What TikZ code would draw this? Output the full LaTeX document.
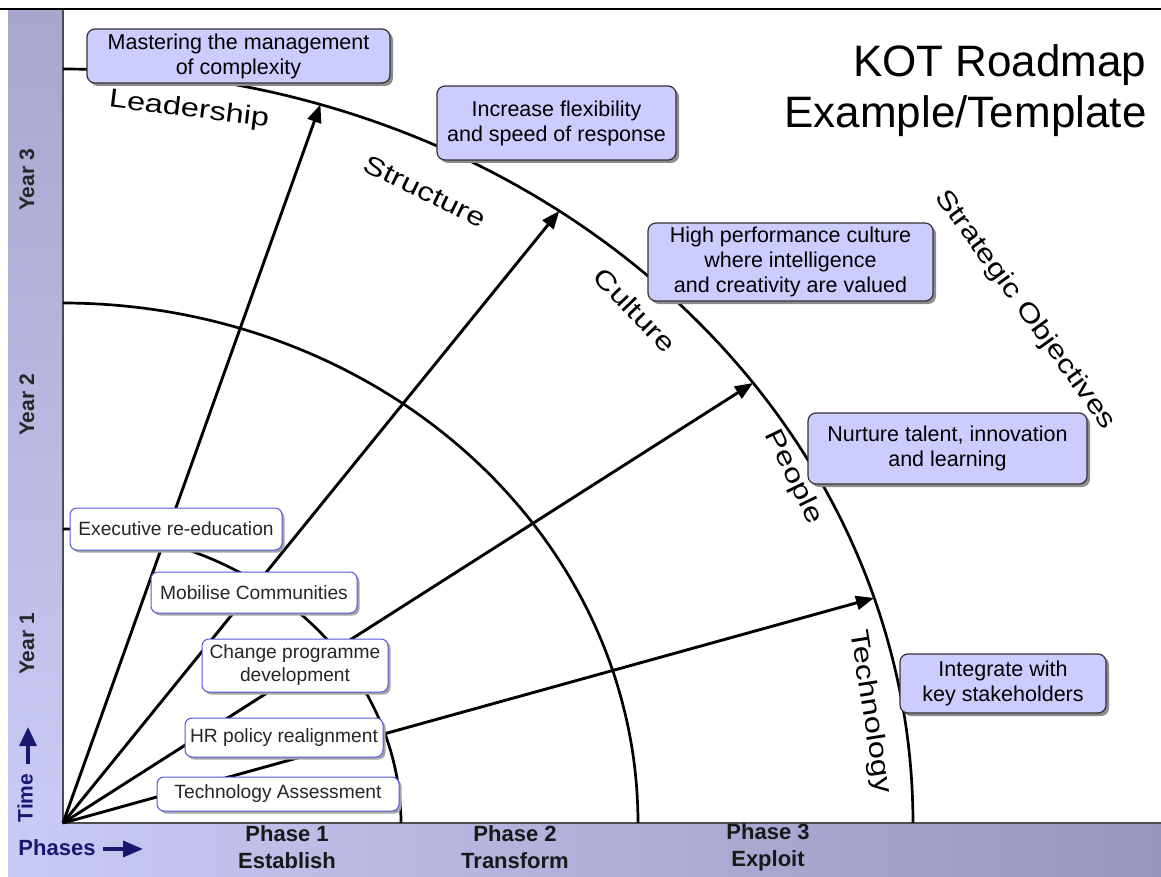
\documentclass[tikz,border=0pt]{standalone}
\usepackage{fontspec}
\setmainfont{Liberation Sans}
\newfontfamily\arcfont[FakeStretch=1.25]{Liberation Sans}
\usepackage{tikz}
\usetikzlibrary{arrows.meta, shadows}

\definecolor{barlight}{RGB}{202,202,246}
\definecolor{bardark}{RGB}{166,166,206}
\definecolor{barright}{RGB}{150,150,190}
\definecolor{timenavy}{RGB}{24,24,112}
\definecolor{lavender}{RGB}{204,204,255}
\definecolor{edgeblue}{RGB}{85,85,225}

\tikzset{
  objbox/.style={draw=black!80, line width=1.2pt, fill=lavender, rounded corners=8pt, align=center,
    font=\fontsize{21.5}{25}\selectfont, inner sep=2pt,
    drop shadow={shadow xshift=3pt, shadow yshift=-3pt, fill=black!45, opacity=1}},
  actbox/.style={draw=edgeblue, line width=1pt, fill=white, rounded corners=7pt, align=center,
    font=\fontsize{19.2}{23}\selectfont, text=black!85, inner sep=2pt,
    drop shadow={shadow xshift=2.5pt, shadow yshift=-2.5pt, fill=black!35, opacity=1}},
  arclbl/.style={font=\arcfont\fontsize{26}{30}\selectfont, inner sep=0pt},
  yearlbl/.style={font=\bfseries\fontsize{21}{25}\selectfont, text=black!85, rotate=90},
  phaselbl/.style={font=\bfseries\fontsize{22}{27}\selectfont, align=center, text=black!90},
  spoke/.style={line width=2.9pt, -{Triangle[length=18pt, width=14pt]}},
  ring/.style={line width=2.7pt},
}

\begin{document}
\begin{tikzpicture}[x=1pt, y=-1pt]
    \useasboundingbox (0,0) rectangle (1161,877);
    \shade[top color=bardark, bottom color=barlight] (8,10) rectangle (63,823);
    \shade[left color=barlight, right color=barright] (8,823) rectangle (1161,877);
    \draw[line width=2pt] (0,9) -- (1161,9);
    \draw[line width=1.2pt, black!70] (63,10) -- (63,823) -- (1161,823);

    \coordinate (O) at (63,823);
    \foreach \a/\b in {338/294, 575/520, 850/754}
      \draw[ring, shift={(O)}] plot[domain=0:90, samples=90] ({\a*cos(\x)}, {-\b*sin(\x)});

    \coordinate (tipLead) at (320.4,104.4);
    \coordinate (tipStruct) at (559.3,210.9);
    \coordinate (tipCult) at (753,383);
    \coordinate (tipTech) at (874,598);
    \draw[spoke] (O) -- (tipLead);
    \draw[spoke] (O) -- (tipStruct);
    \draw[spoke] (O) -- (tipCult);
    \draw[spoke] (O) -- (tipTech);

    \node[objbox, minimum width=303pt, minimum height=54pt] (mastering) at (238.5,56) {Mastering the management\\of complexity};
    \node[objbox, minimum width=239pt, minimum height=74pt] (flex) at (556.5,123) {Increase flexibility\\and speed of response};
    \node[objbox, minimum width=285pt, minimum height=78pt] (perf) at (790.5,262) {High performance culture\\where intelligence\\and creativity are valued};
    \node[objbox, minimum width=279pt, minimum height=71pt] (talent) at (947.5,448.5) {Nurture talent, innovation\\and learning};
    \node[objbox, minimum width=206pt, minimum height=59pt] (integrate) at (1003,683.5) {Integrate with\\key stakeholders};

    \node[actbox, minimum width=212pt, minimum height=42pt] (exec) at (176,529) {Executive re-education};
    \node[actbox, minimum width=206pt, minimum height=41pt] (mobilise) at (254,592.5) {Mobilise Communities};
    \node[actbox, minimum width=186pt, minimum height=53pt] (change) at (295,665.5) {Change programme\\development};
    \node[actbox, minimum width=198pt, minimum height=39pt] (hrpolicy) at (284,737.5) {HR policy realignment};
    \node[actbox, minimum width=242pt, minimum height=34pt] (techassess) at (278,794) {Technology Assessment};

    \node[arclbl, rotate=-7] (leadership) at (189,110) {Leadership};
    \node[arclbl, rotate=-26] (structure) at (425,191) {Structure};
    \node[arclbl, rotate=-46] (culture) at (635,310) {Culture};
    \node[arclbl, rotate=-64] (people) at (793,477) {People};
    \node[arclbl, rotate=-81] (technology) at (870,712) {Technology};
    \node[arclbl, rotate=-54] (strategic) at (1025,310) {Strategic Objectives};

    \node[anchor=east, align=right, font=\fontsize{44}{51}\selectfont] (title) at (1150,91) {KOT Roadmap\\Example/Template};

    \node[yearlbl] (year3) at (27,180) {Year 3};
    \node[yearlbl] (year2) at (27,405) {Year 2};
    \node[yearlbl] (year1) at (27,644) {Year 1};
    \node[yearlbl, text=timenavy] (time) at (25,798) {Time};
    \coordinate (timeEnd) at (28,727);
    \draw[timenavy, line width=3.5pt, -{Triangle[length=19pt, width=17pt]}] (time.east) ++(3,-6) -- (timeEnd);
    \node[phaselbl, text=timenavy] (phases) at (57,848) {Phases};
    \coordinate (phasesEnd) at (143,849);
    \draw[timenavy, line width=3.5pt, -{Triangle[length=20pt, width=16pt]}] (phases.east) ++(4,1) -- (phasesEnd);

    \node[phaselbl] (phase1) at (287,847) {Phase 1\\Establish};
    \node[phaselbl] (phase2) at (515,847) {Phase 2\\Transform};
    \node[phaselbl] (phase3) at (768,847) {Phase 3\\Exploit};
\end{tikzpicture}
\end{document}
